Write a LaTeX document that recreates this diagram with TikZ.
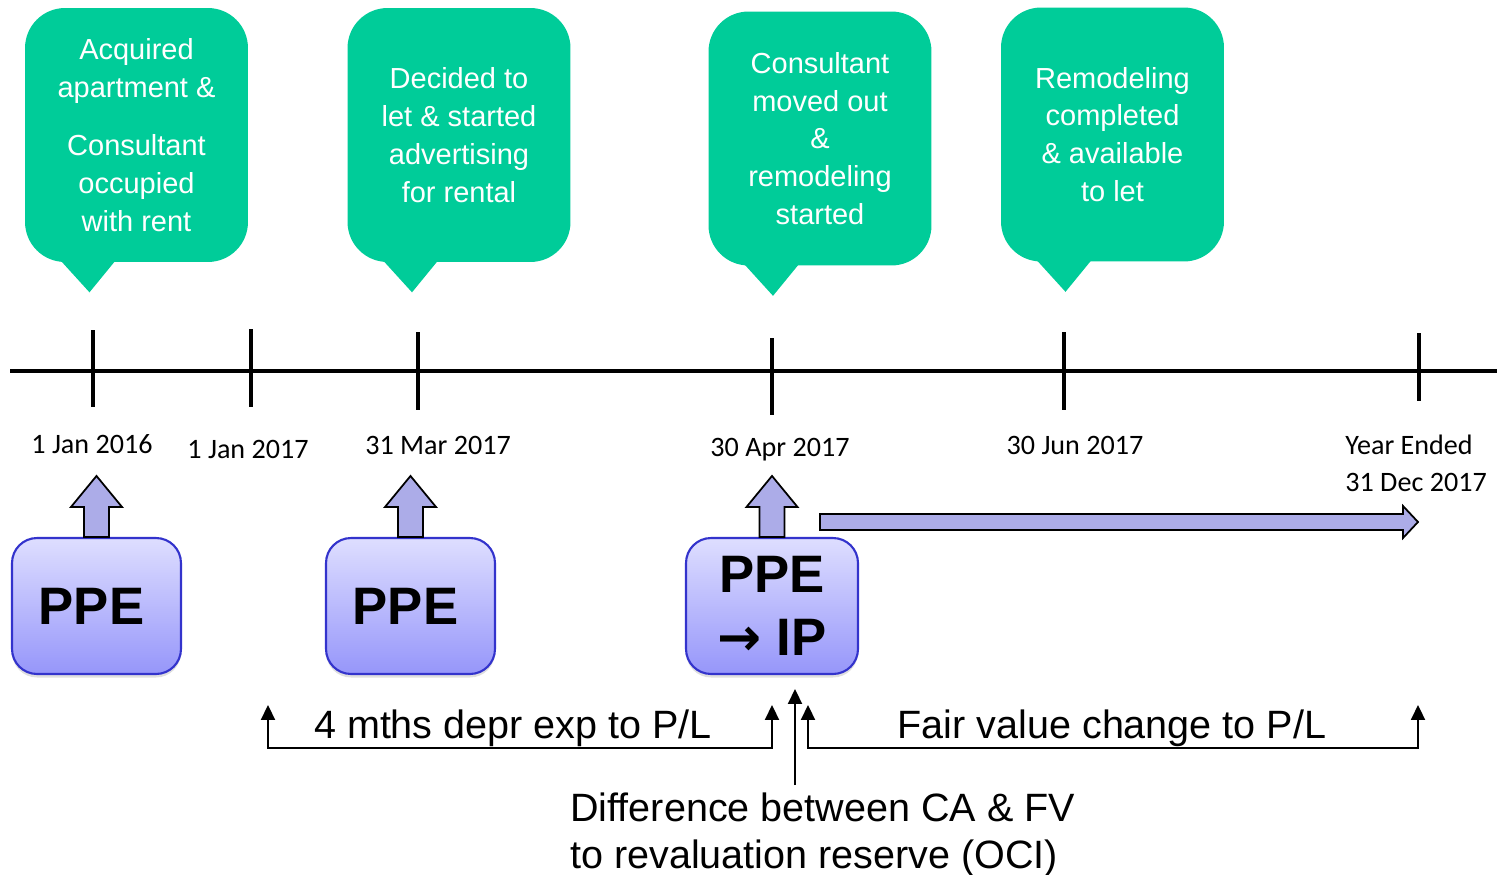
\documentclass[tikz,border=0pt]{standalone}
\usepackage{fontspec}
\setmainfont{Liberation Sans}
\newfontfamily\datefont{Carlito}
\newfontfamily\symfont{DejaVu Sans}
\usetikzlibrary{arrows.meta,calc,shadows}
\definecolor{bubblegreen}{RGB}{0,204,153}
\definecolor{ppetop}{RGB}{222,222,255}
\definecolor{ppebottom}{RGB}{150,150,250}
\definecolor{ppeedge}{RGB}{51,51,204}
\definecolor{arrowfill}{RGB}{172,172,232}
\tikzset{
  bubble/.style={fill=bubblegreen,rounded corners=0.8cm,minimum width=4.46cm,minimum height=5.08cm,
    inner sep=0pt,text=white,align=center,font=\fontsize{16.5}{21.5}\selectfont},
  ppebox/.style={draw=ppeedge,line width=1.2pt,rounded corners=0.5cm,top color=ppetop,bottom color=ppebottom,
    minimum width=3.38cm,minimum height=2.72cm,align=center,font=\fontsize{30}{35.7}\selectfont\bfseries,
    drop shadow={opacity=0.25,shadow xshift=0pt,shadow yshift=-2pt}},
  datelbl/.style={inner sep=0pt,font=\datefont\fontsize{16}{21}\selectfont},
  blockarr/.style={fill=arrowfill,draw=black,line width=1pt},
  note/.style={inner sep=0pt,font=\fontsize{22.5}{26.6}\selectfont},
  tip/.style={line width=1pt},
}
\newcommand{\tiphead}{Triangle[width=8pt,length=8.5pt]}
\begin{document}
\begin{tikzpicture}[x=0.02cm,y=-0.02cm]
\useasboundingbox (0,0) rectangle (1497,875);
% call-outs
\node[bubble] (b1) at (136.5,135) {Acquired\\apartment \&\\[12pt]Consultant\\occupied\\with rent};
\node[bubble] (b2) at (459,135) {Decided to\\let \& started\\advertising\\for rental};
\node[bubble] (b3) at (820,138.5) {Consultant\\moved out\\\&\\remodeling\\started};
\node[bubble] (b4) at (1112.5,134.5) {Remodeling\\completed\\\& available\\to let};
\foreach \b in {b1,b2,b3,b4}
  \fill[bubblegreen] ($(\b.south)+(-77,-3)$) -- ($(\b.south)+(-20,-3)$) -- ($(\b.south)+(-47,30)$) -- cycle;
% time line
\draw[line width=2.3pt] (10,371) -- (1497,371);
\foreach \x/\yt/\yb in {93/330/407,251/329/407,418/332/410,772/338/415,1064/332/410,1419/333/401}
  \draw[line width=2pt] (\x,\yt) -- (\x,\yb);
\node[datelbl] (d1) at (92,444) {1 Jan 2016};
\node[datelbl] (d2) at (248,449) {1 Jan 2017};
\node[datelbl] (d3) at (438,445) {31 Mar 2017};
\node[datelbl] (d4) at (780,450) {30 Apr 2017};
\node[datelbl] (d5) at (1075,445) {30 Jun 2017};
\node[datelbl,anchor=west,align=left] (d6) at (1345,463) {Year Ended\\31 Dec 2017};
% classification boxes
\node[ppebox] (ppeA) at (96.5,606) {PPE\hspace{0.2cm}};
\node[ppebox] (ppeB) at (410.5,606) {PPE\hspace{0.2cm}};
\node[ppebox,minimum width=3.44cm] (ppeC) at (772,606) {PPE\\{\symfont\bfseries →} IP};
\foreach \b in {ppeA,ppeB,ppeC}
  \draw[blockarr] ($(\b.north)+(-12.5,0)$) -- ++(0,-30) -- ++(-13,0) -- ($(\b.north)+(0,-61)$)
    -- ($(\b.north)+(25.5,-30)$) -- ++(-13,0) -- ($(\b.north)+(12.5,0)$) -- cycle;
\draw[blockarr] (820,514) -- (1403,514) -- (1403,506) -- (1418,522) -- (1403,538) -- (1403,530) -- (820,530) -- cycle;
% accounting treatment
\coordinate (depS) at (268,705);
\coordinate (depE) at (772,705);
\coordinate (fvS) at (808,705);
\coordinate (fvE) at (1418,705);
\coordinate (ociTop) at (795,689);
\coordinate (ociFoot) at (795,785);
\draw[tip,{\tiphead}-{\tiphead}] (depS) |- (520,748) -| (depE);
\draw[tip,{\tiphead}-{\tiphead}] (fvS) |- (1110,748) -| (fvE);
\draw[tip,-{\tiphead}] (ociFoot) -- (ociTop);
\node[note] (dep) at (513,728) {4 mths depr exp to P/L};
\node[note] (fv) at (1112,728) {Fair value change to P/L};
\node[note,anchor=west,align=left] (oci) at (570,835) {Difference between CA \& FV\\to revaluation reserve (OCI)};
\end{tikzpicture}
\end{document}
